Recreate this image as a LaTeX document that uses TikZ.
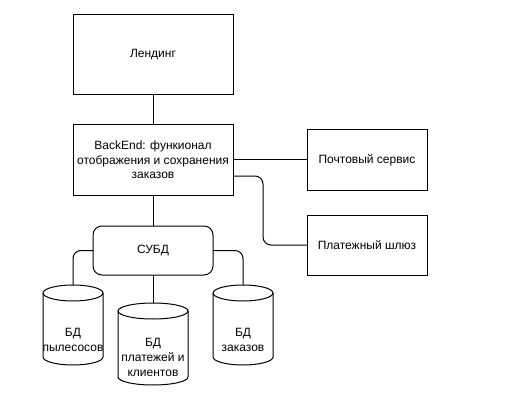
\documentclass[tikz,border=0pt]{standalone}
\usepackage{fontspec}
\setmainfont{Liberation Sans}
\begin{document}
\begin{tikzpicture}[x=1pt,y=1pt,
  line/.style={draw=black,line width=1pt},
  box/.style={line,rectangle,fill=white,align=center,inner sep=0pt,outer sep=0pt,font=\fontsize{12}{14.5}\selectfont},
  roundbox/.style={box,rounded corners=9pt},
  dbbox/.style={rectangle,draw=none,inner sep=0pt,outer sep=0pt},
  dbtext/.style={align=center,inner sep=0pt,font=\fontsize{12}{15}\selectfont},
  conn/.style={line,rounded corners=8pt}]
\useasboundingbox[fill=white] (0,0) rectangle (506,-409);
\newcommand\dbcyl[2]{%
  \draw[line,fill=white] ([yshift=-8pt]#1.north west) -- ([yshift=8pt]#1.south west)
    arc[start angle=180,end angle=360,x radius=#2,y radius=8pt]
    -- ([yshift=-8pt]#1.north east)
    arc[start angle=0,end angle=180,x radius=#2,y radius=8pt] -- cycle;
  \draw[line] ([yshift=-8pt]#1.north west)
    arc[start angle=180,end angle=360,x radius=#2,y radius=8pt];}
% boxes
\node[box,minimum width=160pt,minimum height=80pt] (land) at (153,-55) {Лендинг};
\node[box,minimum width=160pt,minimum height=70pt] (be) at (153,-160)
  {BackEnd: функионал\\отображения и сохранения\\заказов};
\node[box,minimum width=120pt,minimum height=60pt] (mail) at (367,-160) {Почтовый сервис};
\node[box,minimum width=120pt,minimum height=60pt] (pay) at (367,-245) {Платежный шлюз};
\node[roundbox,minimum width=120pt,minimum height=49pt] (dbms) at (153,-250.5) {СУБД};
% cylinders
\node[dbbox,minimum width=60pt,minimum height=80pt] (db1) at (73,-325) {};
\node[dbbox,minimum width=70pt,minimum height=82pt] (db2) at (153,-344) {};
\node[dbbox,minimum width=60pt,minimum height=80pt] (db3) at (243,-325) {};
% connectors
\draw[line] (land.south) -- (be.north);
\draw[line] (be.east) -- (mail.west);
\draw[conn] ([yshift=-16pt]be.east) -- ++(30,0) |- (pay.west);
\draw[line] (be.south) -- (dbms.north);
\draw[line] (dbms.south) -- (db2.north);
\draw[conn] (dbms.west) -| (db1.north);
\draw[conn] (dbms.east) -| (db3.north);
\dbcyl{db1}{30pt}
\dbcyl{db2}{35pt}
\dbcyl{db3}{30pt}
\node[dbtext] (db1t) at ([yshift=-14.5pt]db1.center) {БД\\пылесосов};
\node[dbtext] (db2t) at ([yshift=-13pt]db2.center) {БД\\платежей и\\клиентов};
\node[dbtext] (db3t) at ([yshift=-14.5pt]db3.center) {БД\\заказов};
\end{tikzpicture}
\end{document}
